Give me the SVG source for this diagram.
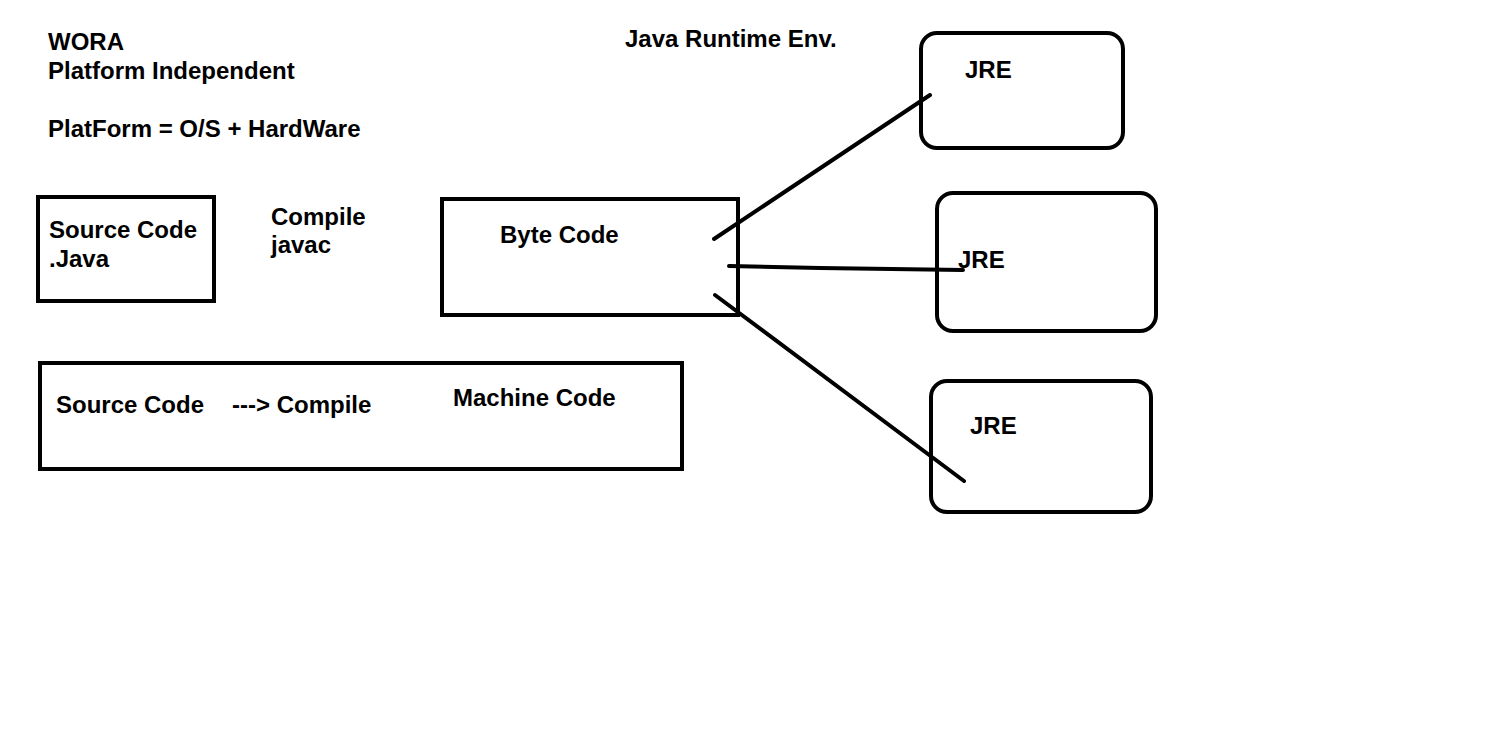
<svg xmlns="http://www.w3.org/2000/svg" width="1508" height="742" viewBox="0 0 1508 742">
<style>
  text { font-family: "Liberation Sans", Arial, sans-serif; font-weight: bold; font-size: 24px; fill: #000; }
  .box { fill: none; stroke: #000; stroke-width: 4; }
  .conn { fill: none; stroke: #000; stroke-width: 4; stroke-linecap: round; stroke-linejoin: round; }
</style>
<rect x="0" y="0" width="1508" height="742" fill="#fff"/>
<g id="notes">
  <text x="48" y="50">WORA</text>
  <text x="48" y="79">Platform Independent</text>
  <text x="48" y="137">PlatForm = O/S + HardWare</text>
  <text x="625" y="47">Java Runtime Env.</text>
  <text x="271" y="225">Compile</text>
  <text x="271" y="253">javac</text>
</g>
<g id="source-code">
  <rect class="box" x="38" y="197" width="176" height="104"/>
  <text x="49" y="238">Source Code</text>
  <text x="49" y="267">.Java</text>
</g>
<g id="byte-code">
  <rect class="box" x="442" y="199" width="296" height="116"/>
  <text x="500" y="243">Byte Code</text>
</g>
<g id="machine-code">
  <rect class="box" x="40" y="363" width="642" height="106"/>
  <text x="56" y="413">Source Code</text>
  <text x="232" y="413">---&gt; Compile</text>
  <text x="453" y="406">Machine Code</text>
</g>
<g id="jre-1">
  <rect class="box" x="921" y="33" width="202" height="115" rx="16" ry="16"/>
  <text x="965" y="78">JRE</text>
</g>
<g id="jre-2">
  <rect class="box" x="937" y="193" width="219" height="138" rx="16" ry="16"/>
  <text x="958" y="268">JRE</text>
</g>
<g id="jre-3">
  <rect class="box" x="931" y="381" width="220" height="131" rx="16" ry="16"/>
  <text x="970" y="434">JRE</text>
</g>
<g id="connectors">
  <line class="conn" x1="714" y1="239" x2="930" y2="95"/>
  <polyline class="conn" points="729,266 820,268 963,270"/>
  <line class="conn" x1="715" y1="295" x2="964" y2="481"/>
</g>
</svg>
